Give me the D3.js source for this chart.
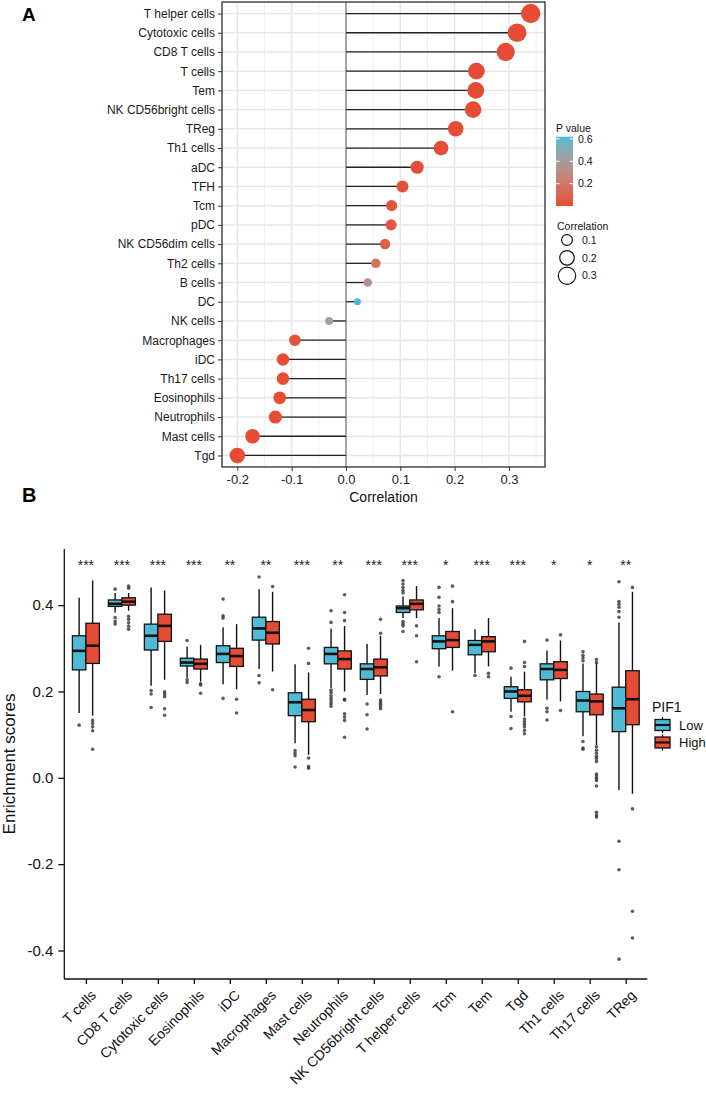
<!DOCTYPE html>
<html><head><meta charset="utf-8">
<script src="https://cdn.jsdelivr.net/npm/d3@7"></script>
<style>body{margin:0;background:#fff} text{font-family:"Liberation Sans",Arial,Helvetica,sans-serif}</style>
</head><body><svg id="c" width="706" height="1104"></svg>
<script>
// ---------- Panel A data ----------
const cellsA = ["T helper cells","Cytotoxic cells","CD8 T cells","T cells","Tem","NK CD56bright cells","TReg","Th1 cells","aDC","TFH","Tcm","pDC","NK CD56dim cells","Th2 cells","B cells","DC","NK cells","Macrophages","iDC","Th17 cells","Eosinophils","Neutrophils","Mast cells","Tgd"];
const corrA = [0.340,0.315,0.294,0.240,0.239,0.234,0.202,0.175,0.131,0.104,0.084,0.083,0.072,0.055,0.040,0.021,-0.031,-0.094,-0.116,-0.116,-0.122,-0.130,-0.172,-0.200];
const pvalA = [1e-7,1e-6,1e-5,1e-4,1e-4,1e-4,1e-3,2e-3,0.01,0.02,0.04,0.045,0.085,0.17,0.33,0.62,0.45,0.03,0.008,0.008,0.006,0.004,1e-4,1e-5];
const xTicksA = [-0.2,-0.1,0,0.1,0.2,0.3];
const xMinorA = [-0.15,-0.05,0.05,0.15,0.25,0.35];
const pLegendTicks = [0.2,0.4,0.6];
const sizeLegendValues = [0.1,0.2,0.3];

// ---------- Panel B data ----------
const cellsB = ["T cells","CD8 T cells","Cytotoxic cells","Eosinophils","iDC","Macrophages","Mast cells","Neutrophils","NK CD56bright cells","T helper cells","Tcm","Tem","Tgd","Th1 cells","Th17 cells","TReg"];
const signifB = ["***","***","***","***","**","**","***","**","***","***","*","***","***","*","*","**"];
// [lower whisker, Q1, median, Q3, upper whisker]
const lowStats = [
 [0.150,0.250,0.294,0.329,0.417],[0.383,0.397,0.403,0.412,0.428],[0.213,0.296,0.329,0.356,0.441],[0.231,0.259,0.267,0.277,0.304],
 [0.217,0.267,0.287,0.306,0.349],[0.252,0.319,0.346,0.372,0.437],[0.080,0.144,0.175,0.197,0.263],[0.208,0.264,0.287,0.302,0.346],
 [0.192,0.228,0.252,0.264,0.310],[0.370,0.383,0.393,0.398,0.420],[0.258,0.299,0.316,0.329,0.370],[0.242,0.285,0.308,0.318,0.344],
 [0.153,0.184,0.200,0.211,0.234],[0.181,0.227,0.252,0.264,0.295],[0.096,0.153,0.179,0.200,0.265],[-0.028,0.107,0.161,0.210,0.360]];
const highStats = [
 [0.144,0.265,0.306,0.358,0.457],[0.387,0.400,0.408,0.417,0.428],[0.227,0.316,0.352,0.379,0.434],[0.223,0.252,0.264,0.275,0.308],
 [0.205,0.258,0.282,0.300,0.356],[0.246,0.310,0.336,0.362,0.431],[0.053,0.130,0.157,0.182,0.244],[0.200,0.252,0.275,0.294,0.352],
 [0.194,0.236,0.256,0.275,0.329],[0.370,0.389,0.403,0.412,0.444],[0.248,0.302,0.319,0.339,0.393],[0.258,0.292,0.316,0.327,0.370],
 [0.142,0.176,0.190,0.204,0.246],[0.177,0.230,0.250,0.269,0.318],[0.076,0.146,0.177,0.194,0.265],[-0.037,0.123,0.182,0.248,0.431]];
const lowOut = [
 [0.122],[0.437,0.371,0.362,0.356],[0.202,0.194,0.163],[0.318,0.227,0.221],
 [0.414,0.375,0.370,0.184],[0.465,0.237,0.220],[0.063,0.057,0.051,0.025],[0.387,0.360,0.203,0.197,0.190,0.184,0.178,0.172,0.166],
 [0.171,0.146,0.113],[0.457,0.449,0.441,0.434,0.428,0.362,0.357,0.352,0.339],[0.441,0.418,0.398,0.390,0.383,0.234],[0.237],
 [0.254,0.142,0.114],[0.319,0.161,0.153,0.134],[0.292,0.284,0.278,0.271,0.084,0.069,0.066],[0.454,0.408,0.402,0.395,0.385,0.372,-0.147,-0.213,-0.420]];
const highOut = [
 [0.133,0.126,0.118,0.109,0.066],[0.444,0.439,0.374,0.367,0.359,0.351,0.344],[0.199,0.194,0.188,0.160,0.145],[0.218,0.215,0.196],
 [0.182,0.150],[0.443,0.204],[0.300,0.265,0.046,0.026,0.022],[0.424,0.383,0.364,0.182,0.180,0.148,0.141,0.133,0.094],
 [0.367,0.335,0.180,0.175,0.170,0.165,0.160],[0.352,0.329,0.269],[0.444,0.408,0.153],[0.242,0.234],
 [0.316,0.267,0.258,0.136,0.130,0.124,0.118,0.110,0.102],[0.331,0.156],
 [0.274,0.267,0.072,0.064,0.057,0.050,0.045,0.038,0.009,0.004,-0.001,-0.006,-0.019,-0.080,-0.086,-0.091],[0.441,-0.072,-0.309,-0.371]];
const yTicksB = [-0.4,-0.2,0,0.2,0.4];
const groupsB = ["Low","High"];
const groupColors = ["#4DBBD5","#E64B35"];
const pColors = ["#E64B35","#4DBBD5"];

const svg = d3.select("#c");
const fmt1 = d => d.toFixed(1);

// ================= Panel A =================
const A = {l:222, r:545, t:2, b:467};
const xA = d3.scaleLinear().domain([-0.2282,0.3663]).range([A.l,A.r]);
const yA = d3.scalePoint().domain(cellsA).range([A.t,A.b]).padding(0.6);
const pScale = d3.scaleLinear().domain([0,0.62]).range(pColors).interpolate(d3.interpolateLab);
const rBase = d3.scaleSqrt().domain([0,1]).range([0,14]);
const rA = v => 1.5 + rBase(Math.abs(v));

svg.append("text").attr("x",22).attr("y",21).attr("font-size",19).attr("font-weight","bold").text("A");

const gA = svg.append("g");
gA.append("rect").attr("x",A.l).attr("y",A.t).attr("width",A.r-A.l).attr("height",A.b-A.t).attr("fill","#fff");
gA.selectAll(".minor").data(xMinorA).join("line").attr("x1",d=>xA(d)).attr("x2",d=>xA(d)).attr("y1",A.t).attr("y2",A.b).attr("stroke","#EBEBEB").attr("stroke-width",0.8);
gA.selectAll(".majx").data(xTicksA).join("line").attr("x1",d=>xA(d)).attr("x2",d=>xA(d)).attr("y1",A.t).attr("y2",A.b).attr("stroke","#E6E6E6").attr("stroke-width",1.5);
gA.selectAll(".majy").data(cellsA).join("line").attr("x1",A.l).attr("x2",A.r).attr("y1",d=>yA(d)).attr("y2",d=>yA(d)).attr("stroke","#E6E6E6").attr("stroke-width",1.5);
gA.append("line").attr("x1",xA(0)).attr("x2",xA(0)).attr("y1",A.t).attr("y2",A.b).attr("stroke","#808080").attr("stroke-width",1.3);
gA.selectAll(".seg").data(cellsA).join("line").attr("x1",xA(0)).attr("x2",(d,i)=>xA(corrA[i])).attr("y1",d=>yA(d)).attr("y2",d=>yA(d)).attr("stroke","#222").attr("stroke-width",1.3);
gA.selectAll(".pt").data(cellsA).join("circle").attr("cx",(d,i)=>xA(corrA[i])).attr("cy",d=>yA(d)).attr("r",(d,i)=>rA(corrA[i])).attr("fill",(d,i)=>pScale(pvalA[i]));
gA.append("rect").attr("x",A.l).attr("y",A.t).attr("width",A.r-A.l).attr("height",A.b-A.t).attr("fill","none").attr("stroke","#1a1a1a").attr("stroke-width",1.2);
const axLA = svg.append("g").attr("transform",`translate(${A.l},0)`).call(d3.axisLeft(yA).tickSize(4).tickPadding(3));
axLA.select(".domain").remove();
axLA.selectAll("text").attr("font-size",12).attr("fill","#1a1a1a");
axLA.selectAll("line").attr("stroke","#333");
const axBA = svg.append("g").attr("transform",`translate(0,${A.b})`).call(d3.axisBottom(xA).tickValues(xTicksA).tickFormat(fmt1).tickSize(4).tickPadding(4));
axBA.select(".domain").remove();
axBA.selectAll("text").attr("font-size",13).attr("fill","#1a1a1a");
axBA.selectAll("line").attr("stroke","#333");
svg.append("text").attr("x",(A.l+A.r)/2).attr("y",502).attr("text-anchor","middle").attr("font-size",14).attr("fill","#111").text("Correlation");

// P value legend
const cb = {x:556, w:17, top:136.7, bot:206};
svg.append("text").attr("x",cb.x).attr("y",132).attr("font-size",10.5).attr("fill","#111").text("P value");
const defs = svg.append("defs");
const grad = defs.append("linearGradient").attr("id","pg").attr("x1",0).attr("x2",0).attr("y1",1).attr("y2",0);
d3.range(0,1.0001,0.1).forEach(t=>grad.append("stop").attr("offset",t).attr("stop-color",pScale(t*0.62)));
svg.append("rect").attr("x",cb.x).attr("y",cb.top).attr("width",cb.w).attr("height",cb.bot-cb.top).attr("fill","url(#pg)");
const cbY = d3.scaleLinear().domain([0,0.62]).range([cb.bot,cb.top]);
pLegendTicks.forEach(v=>{
  svg.append("line").attr("x1",cb.x).attr("x2",cb.x+3.5).attr("y1",cbY(v)).attr("y2",cbY(v)).attr("stroke","#fff").attr("stroke-width",1);
  svg.append("line").attr("x1",cb.x+cb.w-3.5).attr("x2",cb.x+cb.w).attr("y1",cbY(v)).attr("y2",cbY(v)).attr("stroke","#fff").attr("stroke-width",1);
  svg.append("text").attr("x",cb.x+cb.w+5).attr("y",cbY(v)+3.7).attr("font-size",10.5).attr("fill","#111").text(fmt1(v));
});
svg.append("text").attr("x",cb.x+1).attr("y",230).attr("font-size",10.5).attr("fill","#111").text("Correlation");
const sizeKeyY = d3.scalePoint().domain(sizeLegendValues).range([240,275.7]);
sizeLegendValues.forEach(v=>{
  svg.append("circle").attr("cx",567).attr("cy",sizeKeyY(v)).attr("r",rA(v)-0.5).attr("fill","#fff").attr("stroke","#111").attr("stroke-width",1.2);
  svg.append("text").attr("x",582).attr("y",sizeKeyY(v)+3.7).attr("font-size",10.5).attr("fill","#111").text(fmt1(v));
});

// ================= Panel B =================
svg.append("text").attr("x",22).attr("y",502).attr("font-size",20).attr("font-weight","bold").text("B");
const B = {l:64.3, r:647.3, t:549, b:979};
const xB = d3.scalePoint().domain(cellsB).range([B.l,B.r]).padding(0.6);
const yB = d3.scaleLinear().domain([-0.466,0.53]).range([B.b,B.t]);
const step = xB.step();
const bw = step*0.75/2;
const gB = svg.append("g");
cellsB.forEach((c,i)=>{
  [lowStats[i],highStats[i]].forEach((s,gi)=>{
    const cx = xB(c) + (gi===0?-1:1)*bw/2;
    const outs = gi===0?lowOut[i]:highOut[i];
    gB.selectAll(null).data(outs).join("circle").attr("cx",cx).attr("cy",d=>yB(d)).attr("r",1.8).attr("fill","#333").attr("fill-opacity",0.8);
    gB.append("line").attr("x1",cx).attr("x2",cx).attr("y1",yB(s[0])).attr("y2",yB(s[1])).attr("stroke","#111").attr("stroke-width",1.4);
    gB.append("line").attr("x1",cx).attr("x2",cx).attr("y1",yB(s[3])).attr("y2",yB(s[4])).attr("stroke","#111").attr("stroke-width",1.4);
    gB.append("rect").attr("x",cx-bw/2).attr("y",yB(s[3])).attr("width",bw).attr("height",yB(s[1])-yB(s[3])).attr("fill",groupColors[gi]).attr("stroke","#111").attr("stroke-width",1.3);
    gB.append("line").attr("x1",cx-bw/2).attr("x2",cx+bw/2).attr("y1",yB(s[2])).attr("y2",yB(s[2])).attr("stroke","#111").attr("stroke-width",2.6);
  });
  gB.append("text").attr("x",xB(c)).attr("y",570).attr("text-anchor","middle").attr("font-size",14).attr("fill","#222").text(signifB[i]);
});
const axLB = svg.append("g").attr("transform",`translate(${B.l},0)`).call(d3.axisLeft(yB).tickValues(yTicksB).tickFormat(fmt1).tickSize(6).tickPadding(5));
axLB.select(".domain").attr("d",`M0,${B.t}V${B.b}`).attr("stroke","#111").attr("stroke-width",1.3);
axLB.selectAll(".tick line").attr("stroke","#111").attr("stroke-width",1.3);
axLB.selectAll("text").attr("font-size",15).attr("fill","#111");
const axBB = svg.append("g").attr("transform",`translate(0,${B.b})`).call(d3.axisBottom(xB).tickSize(5).tickFormat(""));
axBB.select(".domain").attr("d",`M${B.l},0H${B.r}`).attr("stroke","#111").attr("stroke-width",1.3);
axBB.selectAll(".tick line").attr("stroke","#111").attr("stroke-width",1.3);
svg.append("g").selectAll("text").data(cellsB).join("text")
  .attr("transform",d=>`translate(${xB(d)+4},${B.b+10}) rotate(-45)`)
  .attr("text-anchor","end").attr("dy","0.72em").attr("font-size",14).attr("fill","#111").text(d=>d);
svg.append("text").attr("transform",`translate(15,${(B.t+B.b)/2}) rotate(-90)`).attr("text-anchor","middle").attr("font-size",17).attr("fill","#111").text("Enrichment scores");

svg.append("text").attr("x",652).attr("y",712).attr("font-size",14).attr("fill","#111").text("PIF1");
const keyY = d3.scalePoint().domain(groupsB).range([725,742.5]);
groupsB.forEach((g,gi)=>{
  const cy = keyY(g), cx = 662.5;
  svg.append("line").attr("x1",cx).attr("x2",cx).attr("y1",cy-8).attr("y2",cy+8).attr("stroke","#111").attr("stroke-width",1.3);
  svg.append("rect").attr("x",cx-7.5).attr("y",cy-5.5).attr("width",15).attr("height",11).attr("fill",groupColors[gi]).attr("stroke","#111").attr("stroke-width",1.3);
  svg.append("line").attr("x1",cx-7.5).attr("x2",cx+7.5).attr("y1",cy).attr("y2",cy).attr("stroke","#111").attr("stroke-width",2.2);
  svg.append("text").attr("x",679).attr("y",cy+4.5).attr("font-size",13).attr("fill","#111").text(g);
});
</script></body></html>
